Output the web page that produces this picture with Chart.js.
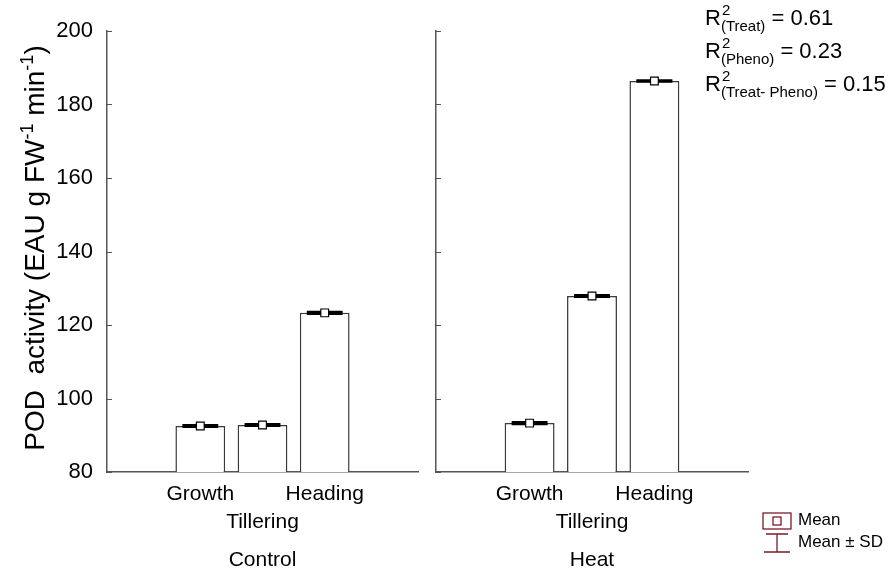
<!DOCTYPE html>
<html>
<head>
<meta charset="utf-8">
<script src="https://cdn.jsdelivr.net/npm/chart.js@4.4.0/dist/chart.umd.min.js"></script>
<style>
  body { margin: 0; background: #fff; font-family: Arial, "Liberation Sans", sans-serif; }
  #wrap { position: relative; width: 891px; height: 575px; overflow: hidden; }
  #wrap canvas { position: absolute; top: 0; }
  .ytitle { position: absolute; left: -195px; top: 233px; width: 460px; height: 30px; line-height: 30px;
            text-align: center; font-size: 28px; color: #000; transform: rotate(-90deg); white-space: nowrap; }
  .ytitle sup { font-size: 18px; vertical-align: 11px; line-height: 0; }
  .r2 { position: absolute; left: 705px; font-size: 22px; color: #000; white-space: nowrap; }
  .ss { position: relative; display: inline-block; }
  .ss .sp { position: absolute; left: 1px; top: -4px; font-size: 15px; }
  .ss .sb { position: relative; top: 6px; font-size: 15px; }
  .leg { position: absolute; left: 762px; font-size: 17px; color: #000; white-space: nowrap; }
  .leg svg { vertical-align: middle; margin-right: 6px; }
</style>
</head>
<body>
<div id="wrap">
  <canvas id="control" width="425" height="575" style="left:0;width:425px;height:575px"></canvas>
  <canvas id="heat" width="466" height="575" style="left:425px;width:466px;height:575px"></canvas>
  <div class="ytitle">POD&nbsp; activity (EAU g FW<sup>-1</sup> min<sup>-1</sup>)</div>
  <div class="r2" style="top:5px">R<span class="ss"><span class="sp">2</span><span class="sb">(Treat)</span></span> = 0.61</div>
  <div class="r2" style="top:38px">R<span class="ss"><span class="sp">2</span><span class="sb">(Pheno)</span></span> = 0.23</div>
  <div class="r2" style="top:71px">R<span class="ss"><span class="sp">2</span><span class="sb">(Treat- Pheno)</span></span> = 0.15</div>
  <div class="leg" style="top:510px"><svg width="30" height="18"><rect x="1" y="1" width="28" height="16" fill="none" stroke="#7a1c2c" stroke-width="1.3"/><rect x="11" y="5" width="8" height="8" fill="none" stroke="#7a1c2c" stroke-width="1.3"/></svg>Mean</div>
  <div class="leg" style="top:532px"><svg width="30" height="22"><path d="M4 2 H26 M15 2 V20 M2 20 H28" fill="none" stroke="#7a1c2c" stroke-width="1.3"/></svg>Mean ± SD</div>
</div>
<script>
var stages = ['', 'Growth', 'Tillering', 'Heading', ''];
var controlMean = [null, 92.5, 92.8, 123.3, null];
var controlSD = [null, 0.25, 0.25, 0.25, null];
var heatMean = [null, 93.3, 127.9, 186.4, null];
var heatSD = [null, 0.25, 0.25, 0.2, null];
var yMin = 80, yMax = 200, yStep = 20;

// caps for mean +/- SD and small inward ticks on the y axis
var marks = {
  id: 'marks',
  afterDatasetDraw: function(chart, args) {
    if (args.index !== 0) return;
    var ctx = chart.ctx, y = chart.scales.y;
    var ds = chart.data.datasets[0];
    args.meta.data.forEach(function(bar, i) {
      if (ds.data[i] == null) return;
      var half = bar.width * 0.36;
      ctx.save();
      ctx.strokeStyle = '#000';
      ctx.lineWidth = 2.2;
      [ds.data[i] + ds.sd[i], ds.data[i] - ds.sd[i]].forEach(function(v) {
        var py = y.getPixelForValue(v);
        ctx.beginPath();
        ctx.moveTo(bar.x - half, py);
        ctx.lineTo(bar.x + half, py);
        ctx.stroke();
      });
      ctx.restore();
    });
  },
  afterDraw: function(chart) {
    var ctx = chart.ctx, y = chart.scales.y, left = chart.chartArea.left;
    ctx.save();
    ctx.strokeStyle = '#555';
    ctx.lineWidth = 1;
    y.ticks.forEach(function(t) {
      var py = Math.round(y.getPixelForValue(t.value)) + 0.5;
      ctx.beginPath();
      ctx.moveTo(left, py);
      ctx.lineTo(left + 5, py);
      ctx.stroke();
    });
    ctx.restore();
  }
};

function makeChart(id, title, means, sds, yWidth, padRight, showY) {
  return new Chart(document.getElementById(id), {
    type: 'bar',
    data: {
      labels: stages,
      datasets: [
        {
          data: means,
          sd: sds,
          backgroundColor: '#fff',
          borderColor: '#3a3a3a',
          borderWidth: 1.5,
          barPercentage: 0.8,
          categoryPercentage: 1,
          order: 2
        },
        {
          type: 'line',
          data: means,
          showLine: false,
          pointStyle: 'rect',
          pointRadius: 5.5,
          pointBackgroundColor: '#fff',
          pointBorderColor: '#000',
          pointBorderWidth: 1.2,
          order: 1
        }
      ]
    },
    options: {
      responsive: false,
      animation: false,
      layout: { padding: { top: 31, right: padRight, bottom: 0, left: 0 } },
      plugins: { legend: { display: false }, tooltip: { enabled: false } },
      scales: {
        x: {
          grid: { display: false, drawTicks: false },
          border: { display: true, color: '#555', width: 1.5 },
          ticks: {
            color: '#000',
            font: { size: 21, family: 'Arial, "Liberation Sans", sans-serif', lineHeight: 1.33 },
            padding: 8,
            maxRotation: 0,
            autoSkip: false,
            callback: function(v, i) { return i === 2 ? ['', stages[i]] : stages[i]; }
          },
          title: {
            display: true,
            text: title,
            color: '#000',
            font: { size: 21, family: 'Arial, "Liberation Sans", sans-serif', lineHeight: 1.33 },
            padding: { top: 0, bottom: 1 }
          },
          afterFit: function(s) { s.height = 103; }
        },
        y: {
          min: yMin,
          max: yMax,
          grid: { display: false, drawTicks: false },
          border: { display: true, color: '#555', width: 1.5 },
          ticks: {
            display: showY,
            stepSize: yStep,
            color: '#000',
            padding: 14,
            font: { size: 22, family: 'Arial, "Liberation Sans", sans-serif' }
          },
          afterFit: function(s) { s.width = yWidth; }
        }
      }
    },
    plugins: [marks]
  });
}

makeChart('control', 'Control', controlMean, controlSD, 107, 7, true);
makeChart('heat', 'Heat', heatMean, heatSD, 11, 143, false);
</script>
</body>
</html>
